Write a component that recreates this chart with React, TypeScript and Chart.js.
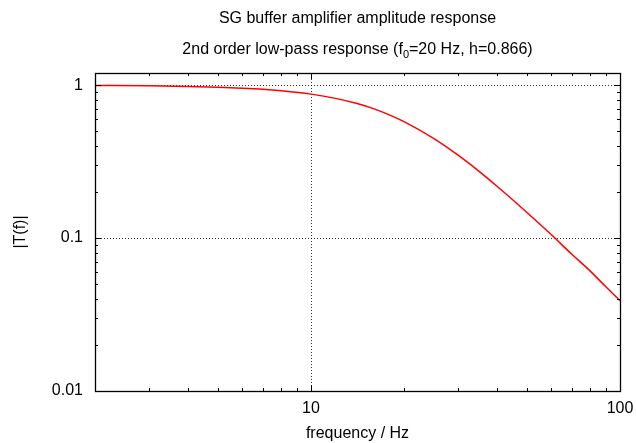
import React, { useEffect, useRef } from "react";
import { Chart, registerables } from "chart.js";

Chart.register(...registerables);

const frequencies = [2, 3, 4, 5, 6, 7, 8, 10, 12, 14, 16, 18, 20, 25, 30, 35, 40, 50, 60, 70, 80, 90, 100];
const amplitude = [0.995, 0.989, 0.98, 0.968, 0.954, 0.938, 0.918, 0.873, 0.819, 0.76, 0.699, 0.637, 0.577, 0.447, 0.347, 0.273, 0.218, 0.147, 0.105, 0.078, 0.061, 0.048, 0.039];

const xTickValues = [2, 3, 4, 5, 6, 7, 8, 9, 10, 20, 30, 40, 50, 60, 70, 80, 90, 100];
const xMajorTicks = [10, 100];
const xTickLabels = ["10", "100"];
const yTickValues = [0.01, 0.02, 0.03, 0.04, 0.05, 0.06, 0.07, 0.08, 0.09, 0.1, 0.2, 0.3, 0.4, 0.5, 0.6, 0.7, 0.8, 0.9, 1];
const yMajorTicks = [0.01, 0.1, 1];
const yTickLabels = ["0.01", "0.1", "1"];

const titleText = "SG buffer amplifier amplitude response";
const subtitleParts = ["2nd order low-pass response (f", "0", "=20 Hz, h=0.866)"];
const xTitle = "frequency / Hz";
const yTitle = "|T(f)|";

const FONT = "'Liberation Sans', Arial, Helvetica, sans-serif";

const framePlugin = {
  id: "gnuplotFrame",
  beforeDatasetsDraw(chart: any) {
    const { ctx, chartArea: a, scales } = chart;
    const xs = scales.x;
    const ys = scales.y;
    ctx.save();
    ctx.strokeStyle = "rgba(0,0,0,0.8)";
    ctx.lineWidth = 1;
    ctx.setLineDash([1, 2]);
    xMajorTicks.forEach((v) => {
      const px = Math.round(xs.getPixelForValue(v)) + 0.5;
      ctx.beginPath();
      ctx.moveTo(px, a.top);
      ctx.lineTo(px, a.bottom);
      ctx.stroke();
    });
    yMajorTicks.forEach((v) => {
      const py = Math.round(ys.getPixelForValue(v)) + 0.5;
      ctx.beginPath();
      ctx.moveTo(a.left, py);
      ctx.lineTo(a.right, py);
      ctx.stroke();
    });
    ctx.restore();
  },
  afterDatasetsDraw(chart: any) {
    const { ctx, chartArea: a, scales } = chart;
    const xs = scales.x;
    const ys = scales.y;
    ctx.save();
    ctx.strokeStyle = "#000";
    ctx.lineWidth = 1;
    ctx.setLineDash([]);
    xTickValues.forEach((v) => {
      const len = xMajorTicks.includes(v) ? 6 : 3;
      const px = Math.round(xs.getPixelForValue(v)) + 0.5;
      ctx.beginPath();
      ctx.moveTo(px, a.bottom);
      ctx.lineTo(px, a.bottom - len);
      ctx.moveTo(px, a.top);
      ctx.lineTo(px, a.top + len);
      ctx.stroke();
    });
    yTickValues.forEach((v) => {
      const len = yMajorTicks.includes(v) ? 6 : 3;
      const py = Math.round(ys.getPixelForValue(v)) + 0.5;
      ctx.beginPath();
      ctx.moveTo(a.left, py);
      ctx.lineTo(a.left + len, py);
      ctx.moveTo(a.right, py);
      ctx.lineTo(a.right - len, py);
      ctx.stroke();
    });
    ctx.lineWidth = 1.3;
    ctx.strokeRect(Math.round(a.left) + 0.5, Math.round(a.top) + 0.5, Math.round(a.right - a.left), Math.round(a.bottom - a.top));

    // titles
    ctx.fillStyle = "#000";
    ctx.textBaseline = "alphabetic";
    ctx.textAlign = "center";
    ctx.font = `16px ${FONT}`;
    const cx = (a.left + a.right) / 2;
    ctx.fillText(titleText, cx, 23);

    const big = `16px ${FONT}`;
    const small = `11px ${FONT}`;
    ctx.font = big;
    const w0 = ctx.measureText(subtitleParts[0]).width;
    const w2 = ctx.measureText(subtitleParts[2]).width;
    ctx.font = small;
    const w1 = ctx.measureText(subtitleParts[1]).width;
    let sx = cx - (w0 + w1 + w2) / 2;
    ctx.textAlign = "left";
    ctx.font = big;
    ctx.fillText(subtitleParts[0], sx, 54);
    sx += w0;
    ctx.font = small;
    ctx.fillText(subtitleParts[1], sx, 58);
    sx += w1;
    ctx.font = big;
    ctx.fillText(subtitleParts[2], sx, 54);

    ctx.textAlign = "center";
    ctx.font = `16px ${FONT}`;
    ctx.fillText(xTitle, cx, 438);

    ctx.save();
    ctx.translate(25, (a.top + a.bottom) / 2);
    ctx.rotate(-Math.PI / 2);
    ctx.textBaseline = "alphabetic";
    ctx.fillText(yTitle, 0, 0);
    ctx.restore();
    ctx.restore();
  },
};

export default function App() {
  const ref = useRef<HTMLCanvasElement | null>(null);
  useEffect(() => {
    document.body.style.margin = "0";
    if (!ref.current) return;
    const chart = new Chart(ref.current, {
      type: "line",
      data: {
        datasets: [
          {
            data: frequencies.map((f, i) => ({ x: f, y: amplitude[i] })),
            borderColor: "#ff0000",
            borderWidth: 1.5,
            pointRadius: 0,
            fill: false,
            cubicInterpolationMode: "monotone",
          },
        ],
      },
      options: {
        animation: false,
        responsive: false,
        maintainAspectRatio: false,
        layout: { padding: { top: 73, right: 16, left: 0, bottom: 0 } },
        plugins: { legend: { display: false }, title: { display: false }, tooltip: { enabled: false } },
        scales: {
          x: {
            type: "logarithmic",
            min: 2,
            max: 100,
            grid: { display: false, drawTicks: false },
            border: { display: false },
            afterBuildTicks: (s: any) => {
              s.ticks = xTickValues.map((v) => ({ value: v, major: xMajorTicks.includes(v) }));
            },
            afterFit: (s: any) => {
              s.height = 52;
              s.paddingLeft = 0;
              s.paddingRight = 0;
            },
            ticks: {
              autoSkip: false,
              maxRotation: 0,
              padding: 8,
              color: "#000",
              font: { family: FONT, size: 16 },
              callback: (v: any) => {
                const i = xMajorTicks.indexOf(Number(v));
                return i >= 0 ? xTickLabels[i] : "";
              },
            },
          },
          y: {
            type: "logarithmic",
            min: 0.01,
            max: 1.2,
            grid: { display: false, drawTicks: false },
            border: { display: false },
            afterBuildTicks: (s: any) => {
              s.ticks = yTickValues.map((v) => ({ value: v, major: yMajorTicks.includes(v) }));
            },
            afterFit: (s: any) => {
              s.width = 95;
              s.paddingTop = 0;
              s.paddingBottom = 0;
            },
            ticks: {
              autoSkip: false,
              padding: 12,
              color: "#000",
              font: { family: FONT, size: 16 },
              callback: (v: any) => {
                const i = yMajorTicks.findIndex((m) => Math.abs(m - Number(v)) < 1e-9);
                return i >= 0 ? yTickLabels[i] : "";
              },
            },
          },
        },
      },
      plugins: [framePlugin],
    } as any);
    return () => chart.destroy();
  }, []);
  return <canvas ref={ref} width={636} height={443} style={{ display: "block" }} />;
}
